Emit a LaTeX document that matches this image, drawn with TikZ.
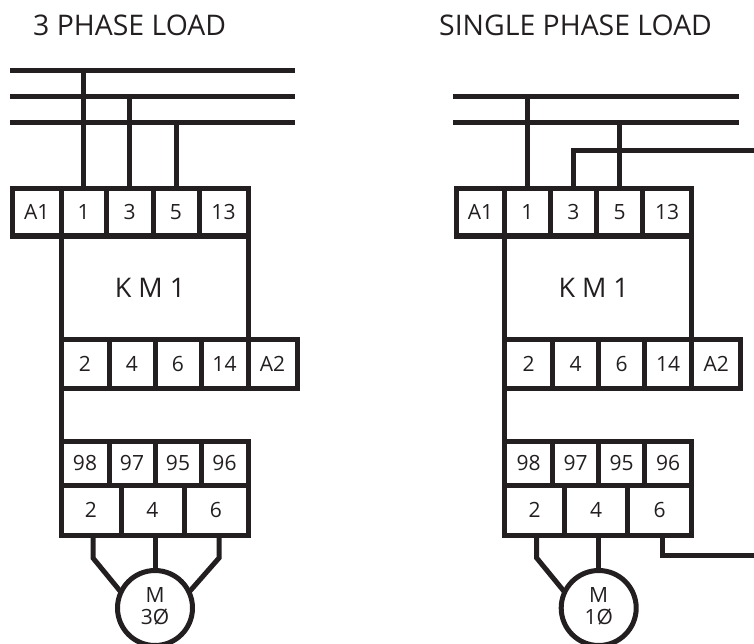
\documentclass[tikz,border=0pt]{standalone}
\usepackage{fontspec}
\setmainfont{Open Sans}
\usepackage{xcolor}
\usepackage{tikz}
\definecolor{inkdark}{HTML}{231F20}
\tikzset{
  wire/.style={draw=inkdark,line width=5pt},
  cell/.style={draw=inkdark,line width=5pt,inner sep=0pt,outer sep=0pt,minimum height=#1,text=inkdark,font=\fontsize{21}{22}\selectfont},
  cell/.default=47.5pt,
  title/.style={text=inkdark,anchor=west,inner sep=0pt,font=\fontsize{28.4}{28}\selectfont}
}
\begin{document}
\begin{tikzpicture}[x=1pt,y=-1pt]
  \useasboundingbox (0,0) rectangle (754,644);

  \node[title] (titleL) at (33,25) {3 PHASE LOAD};
  \node[title] (titleR) at (439,25) {SINGLE PHASE LOAD};

  \foreach \p/\dx/\ph in {L/0/3,R/443.7/1}{
    \begin{scope}[xshift=\dx pt]
      % contact strip on top
      \node[cell,minimum width=48.5pt] (\p a1) at (36.75,212.25) {A1};
      \node[cell,minimum width=45.5pt] (\p t1) at (83.75,212.25) {1};
      \node[cell,minimum width=46.5pt] (\p t3) at (129.75,212.25) {3};
      \node[cell,minimum width=46pt] (\p t5) at (176,212.25) {5};
      \node[cell,minimum width=49pt] (\p t13) at (223.5,212.25) {13};

      \node[cell=103pt,minimum width=187pt,font=\fontsize{27}{27}\selectfont] (\p km) at (154.5,287.5) {\hspace{-9pt}K M 1};

      % contact strip below
      \node[cell=49pt,minimum width=48pt] (\p b2) at (85,363.5) {2};
      \node[cell=49pt,minimum width=46pt] (\p b4) at (132,363.5) {4};
      \node[cell=49pt,minimum width=46pt] (\p b6) at (178,363.5) {6};
      \node[cell=49pt,minimum width=47pt] (\p b14) at (224.5,363.5) {14};
      \node[cell=49pt,minimum width=49pt] (\p a2) at (272.5,363.5) {A2};

      % overload relay
      \node[cell=44pt,minimum width=48pt] (\p o98) at (85,463) {98};
      \node[cell=44pt,minimum width=46pt] (\p o97) at (132,463) {97};
      \node[cell=44pt,minimum width=46pt] (\p o95) at (178,463) {95};
      \node[cell=44pt,minimum width=47pt] (\p o96) at (224.5,463) {96};
      \node[cell=50pt,minimum width=60pt] (\p u2) at (91,510) {2};
      \node[cell=50pt,minimum width=63pt] (\p u4) at (152.5,510) {4};
      \node[cell=50pt,minimum width=64pt] (\p u6) at (216,510) {6};

      \node[cell,circle,minimum size=75pt] (\p m) at (155,608) {};
      \node[cell,draw=none,minimum height=0pt,align=center] (\p mt) at ([yshift=2pt]\p m.center) {M\\\ph\O};
      \draw[wire] (\p b2.south west) -- (\p o98.north west);
    \end{scope}
  }

  % three phase side
  \coordinate (LbusA) at (10,71);
  \coordinate (LbusB) at (10,97);
  \coordinate (LbusC) at (10,123);
  \draw[wire] (LbusA) -- +(285,0);
  \draw[wire] (LbusB) -- +(285,0);
  \draw[wire] (LbusC) -- +(285,0);
  \draw[wire] (Lt1.north) -- (Lt1.north |- LbusA);
  \draw[wire] (Lt3.north) -- (Lt3.north |- LbusB);
  \draw[wire] (Lt5.north) -- (Lt5.north |- LbusC);
  \draw[wire] ([xshift=2pt]Lu2.south) -- +(0,23) -- (Lm.155);
  \draw[wire] (Lm.north |- Lu4.south) -- (Lm.north);
  \draw[wire] ([xshift=3pt]Lu6.south) -- +(0,23) -- (Lm.25);

  % single phase side
  \coordinate (RbusA) at (453,97);
  \coordinate (RbusB) at (453,123);
  \coordinate (RfeedN) at (754,151);
  \coordinate (RfeedM) at (754,555);
  \draw[wire] (RbusA) -- +(286,0);
  \draw[wire] (RbusB) -- +(286,0);
  \draw[wire] (Rt1.north) -- (Rt1.north |- RbusA);
  \draw[wire] (Rt5.north) -- (Rt5.north |- RbusB);
  \draw[wire] (Rt3.north) |- (RfeedN);
  \draw[wire] ([xshift=2pt]Ru2.south) -- +(0,23) -- (Rm.155);
  \draw[wire] (Rm.north |- Ru4.south) -- (Rm.north);
  \draw[wire] ([xshift=3pt]Ru6.south) |- (RfeedM);
\end{tikzpicture}
\end{document}
